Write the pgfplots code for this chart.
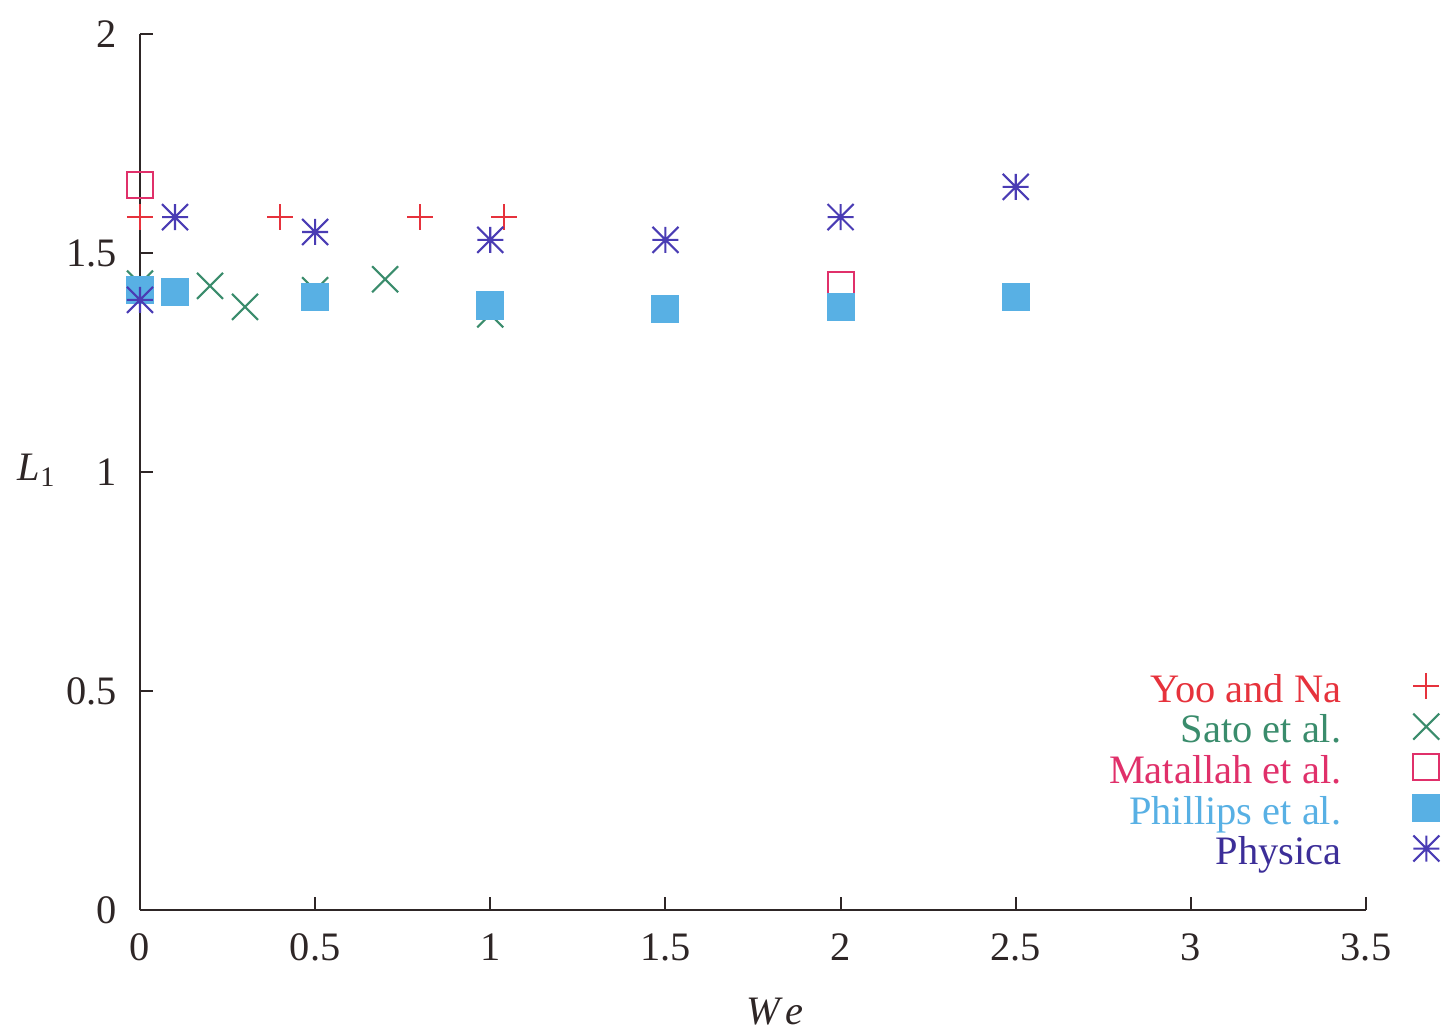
\documentclass[border=0pt]{standalone}
\usepackage{fontspec}
\setmainfont{Liberation Serif}
\usepackage{pgfplots}
\pgfplotsset{compat=1.18}
\definecolor{axisc}{HTML}{2E2626}
\definecolor{cyoo}{HTML}{E6323C}
\definecolor{csato}{HTML}{3A8C6C}
\definecolor{cmat}{HTML}{E0306A}
\definecolor{cphil}{HTML}{58B0E4}
\definecolor{cphys}{HTML}{4A3CB4}
\definecolor{cphystxt}{HTML}{3C2E98}

% gnuplot style 8-arm asterisk and full-size cross
\pgfdeclareplotmark{ast8}{%
  \pgfpathmoveto{\pgfqpoint{-\pgfplotmarksize}{0pt}}\pgfpathlineto{\pgfqpoint{\pgfplotmarksize}{0pt}}%
  \pgfpathmoveto{\pgfqpoint{0pt}{-\pgfplotmarksize}}\pgfpathlineto{\pgfqpoint{0pt}{\pgfplotmarksize}}%
  \pgfpathmoveto{\pgfqpoint{-\pgfplotmarksize}{-\pgfplotmarksize}}\pgfpathlineto{\pgfqpoint{\pgfplotmarksize}{\pgfplotmarksize}}%
  \pgfpathmoveto{\pgfqpoint{-\pgfplotmarksize}{\pgfplotmarksize}}\pgfpathlineto{\pgfqpoint{\pgfplotmarksize}{-\pgfplotmarksize}}%
  \pgfusepathqstroke}
\pgfdeclareplotmark{xx}{%
  \pgfpathmoveto{\pgfqpoint{-\pgfplotmarksize}{-\pgfplotmarksize}}\pgfpathlineto{\pgfqpoint{\pgfplotmarksize}{\pgfplotmarksize}}%
  \pgfpathmoveto{\pgfqpoint{-\pgfplotmarksize}{\pgfplotmarksize}}\pgfpathlineto{\pgfqpoint{\pgfplotmarksize}{-\pgfplotmarksize}}%
  \pgfusepathqstroke}

\begin{document}
\begin{tikzpicture}
\useasboundingbox (-1.40,-1.21) rectangle (13.11,9.10);
\begin{axis}[
  scale only axis, width=12.26cm, height=8.76cm,
  at={(0,0)}, anchor=south west,
  xmin=0, xmax=3.5, ymin=0, ymax=2,
  axis x line=bottom, axis y line=left,
  axis line style={-, axisc, line width=0.6pt},
  xtick={0,0.5,1,1.5,2,2.5,3,3.5},
  ytick={0,0.5,1,1.5,2},
  tick align=inside, major tick length=0.13cm,
  tick style={axisc, line width=0.6pt},
  font=\fontsize{11.5}{13.5}\selectfont,
  /pgf/number format/assume math mode=true,
  tick label style={color=axisc},
  xticklabel style={yshift=-0.11cm},
  yticklabel style={xshift=-0.11cm},
  xlabel={\textit{W\kern1.5pt e}},
  ylabel={\textit{L}\textsubscript{1}},
  xlabel style={at={(axis description cs:0.518,-0.116)}, anchor=center, color=axisc},
  ylabel style={at={(axis description cs:-0.084,0.502)}, anchor=center, rotate=-90, color=axisc},
  legend style={draw=none, fill=none, inner sep=0pt, at={(1.0604,0.2714)}, anchor=north east,
    font=\fontsize{11.5}{13.5}\selectfont, row sep=0pt,
    nodes={inner sep=0pt, text height=0.28cm, text depth=0.113cm},
    /tikz/every odd column/.append style={column sep=0.72cm}},
  legend plot pos=right, legend cell align=right,
  legend image post style={yshift=0.08cm},
  every axis plot/.append style={only marks, line width=0.6pt, mark size=3.7pt},
]
\addplot[cyoo, mark=+] coordinates {
  (0,1.582) (0.4,1.582) (0.8,1.582) (1.04,1.582)
};
\addlegendentry{\textcolor{cyoo}{Yoo and Na}}
\addplot[csato, mark=xx] coordinates {
  (0,1.43) (0.2,1.425) (0.3,1.377) (0.5,1.415) (0.7,1.44) (1.0,1.36)
};
\addlegendentry{\textcolor{csato}{Sato et al.}}
\addplot[cmat, mark=square] coordinates {
  (0,1.655) (2,1.427)
};
\addlegendentry{\textcolor{cmat}{Matallah et al.}}
\addplot[cphil, mark=square*, mark options={fill=cphil, draw=cphil}] coordinates {
  (0,1.415) (0.1,1.41) (0.5,1.40) (1.0,1.38) (1.5,1.372) (2.0,1.377) (2.5,1.40)
};
\addlegendentry{\textcolor{cphil}{Phillips et al.}}
\addplot[cphys, mark=ast8] coordinates {
  (0,1.393) (0.1,1.582) (0.5,1.548) (1.0,1.53) (1.5,1.53) (2.0,1.582) (2.5,1.651)
};
\addlegendentry{\textcolor{cphystxt}{Physica}}
\end{axis}
\end{tikzpicture}
\end{document}
